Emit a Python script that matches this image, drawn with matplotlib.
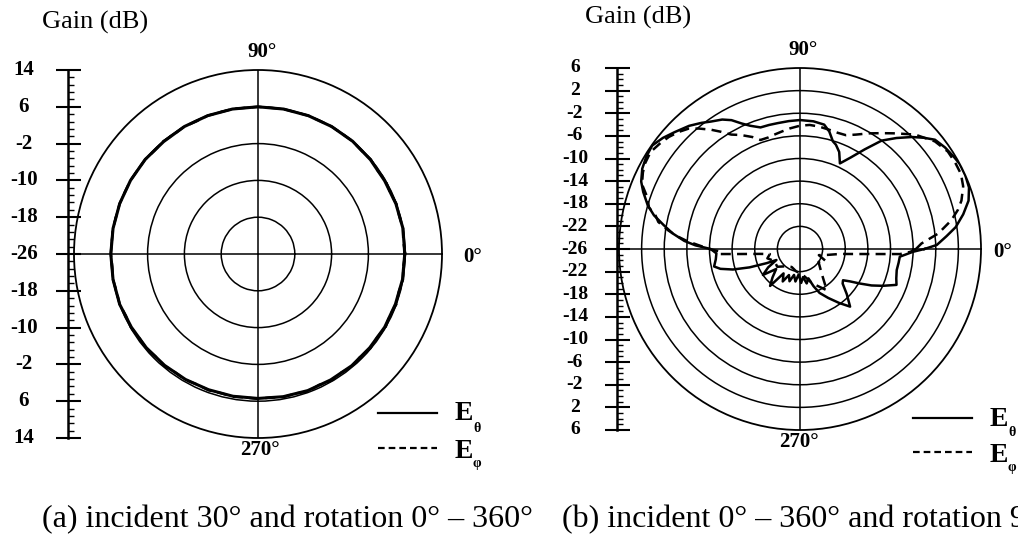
import numpy as np
import matplotlib
matplotlib.use("Agg")
import matplotlib.pyplot as plt
from matplotlib.ticker import MultipleLocator

plt.rcParams['font.family'] = ['Liberation Serif', 'DejaVu Serif']

# (a) incident 30 deg, rotation 0-360 deg
angles_a_theta = list(range(0, 361, 10))
gain_a_theta = [5.9, 6.0, 5.9, 5.8, 5.9, 6.0, 6.0, 6.0, 6.0, 6.0,
                6.0, 6.0, 6.0, 5.9, 6.0, 6.0, 6.0, 6.0, 6.0, 6.0,
                6.0, 5.8, 5.7, 5.6, 5.5, 5.4, 5.4, 5.4, 5.5, 5.6,
                5.6, 5.7, 5.7, 5.8, 5.8, 5.9, 5.9]
angles_a_phi = list(range(0, 361, 5))
gain_a_phi = [6.0, 5.7, 6.0, 5.8, 6.0, 5.7, 6.0, 5.7, 6.0, 5.8,
              6.0, 5.9, 6.0, 5.9, 6.0, 5.9, 6.0, 5.9, 6.0, 5.9,
              6.0, 5.9, 6.0, 5.8, 6.0, 5.8, 6.0, 5.8, 6.0, 5.9,
              6.0, 5.9, 6.0, 5.9, 6.0, 5.9, 6.0, 5.8, 6.0, 5.8,
              6.0, 5.7, 5.9, 5.6, 5.8, 5.5, 5.7, 5.4, 5.6, 5.3,
              5.5, 5.3, 5.5, 5.3, 5.5, 5.3, 5.6, 5.4, 5.8, 5.4,
              5.8, 5.5, 5.9, 5.5, 5.9, 5.6, 6.0, 5.6, 6.0, 5.7,
              6.0, 5.7, 6.0]

# (b) incident 0-360 deg, rotation 90 deg
angles_b_theta = [0, 1.7, 5, 8, 12, 16, 20, 24, 28, 31, 35, 39, 42, 45, 49,
                  53, 57, 61, 65, 68, 71, 73, 76, 79, 84, 90, 95, 100, 104,
                  108, 112, 115, 118, 121, 125, 128, 132, 137, 141, 145, 149,
                  153, 157, 160, 164, 167, 170, 173, 176, 178, 180, 183, 187,
                  191.5, 194, 197, 200, 203, 205, 210, 215, 220, 226, 231,
                  236, 242, 247, 252, 257, 262, 267, 272, 276, 281, 286, 290,
                  294, 300, 306, 311, 316, 321, 324, 327, 330, 333, 336,
                  339.6, 343, 347.7, 352, 355.6, 358.6, 360]
gain_b_theta = [-4.0, -1.8, 0.0, 1.8, 3.5, 5.0, 5.8, 6.0, 6.0, 5.7, 5.3, 4.7,
                3.4, 2.0, 0.0, -2.0, -5.0, -7.5, -9.3, -7.5, -6.5, -6.1, -4.6,
                -3.6, -3.3, -3.2, -3.3, -3.4, -3.4, -3.4, -2.5, -1.5, -0.2,
                0.7, 1.5, 2.3, 3.3, 4.3, 5.2, 5.9, 5.7, 5.3, 4.5, 3.5, 2.0,
                0.5, -1.5, -3.3, -5.5, -7.5, -10.2, -11.2, -11.0, -10.5,
                -11.5, -13.6, -16.5, -19.6, -21.4, -19.5, -18.0, -20.5,
                -19.0, -17.6, -20.8, -19.5, -21.0, -20.0, -21.3, -20.2,
                -21.5, -20.0, -21.0, -19.8, -20.6, -19.0, -17.5, -16.0,
                -14.2, -12.5, -14.5, -16.3, -16.6, -15.5, -13.8, -11.8,
                -10.0, -7.8, -8.2, -8.5, -8.4, -8.3, -6.0, -4.0]
angles_b_phi = [0, 2.6, 6.4, 10.7, 14, 16.7, 21, 25, 29, 33.4, 38.6, 44.8,
                50.5, 55, 59.2, 64, 68, 72, 76, 81, 85.5, 90, 94.7, 99, 103,
                106, 109.9, 113, 117.4, 121, 124, 126.7, 130, 132.8, 136,
                139.5, 143, 147, 151, 154, 157.7, 161.3, 164.6, 167, 169.2,
                172, 174.3, 176, 177.8, 180, 182, 183.6, 184.8, 187, 189.5,
                196, 205, 218, 230, 245, 260, 275, 290, 303, 309, 316, 325,
                335, 342, 348, 352.9, 355.2, 356.4, 357.1, 358.5, 360]
gain_b_phi = [-5.5, -4.5, -1.4, 1.2, 2.8, 3.8, 4.9, 5.4, 5.4, 5.3, 4.5, 2.7,
              0.5, -1.0, -2.2, -3.5, -4.3, -4.4, -4.3, -4.1, -4.0, -4.2, -4.6,
              -5.0, -5.3, -5.5, -5.5, -4.5, -3.3, -2.4, -1.0, 0.3, 1.8, 3.0,
              3.8, 4.5, 5.0, 5.5, 5.3, 4.9, 4.2, 2.5, 1.7, 0.2, -0.5, -2.5,
              -4.4, -6.0, -8.0, -10.0, -12.0, -11.8, -15.4, -18.9, -20.6,
              -20.0, -21.0, -20.9, -22.0, -22.5, -22.0, -21.5, -19.5, -17.3,
              -19.6, -21.0, -22.0, -21.0, -22.5, -21.0, -18.9, -15.4, -11.8,
              -8.3, -6.5, -5.5]

scale_a = [14, 6, -2, -10, -18, -26, -18, -10, -2, 6, 14]
scale_b = [6, 2, -2, -6, -10, -14, -18, -22, -26, -22, -18, -14, -10, -6,
           -2, 2, 6]

W, H = 1018, 547
fig = plt.figure(figsize=(W / 100, H / 100), dpi=100)


def px_rect(x0, y0, x1, y1):
    return [x0 / W, 1 - y1 / H, (x1 - x0) / W, (y1 - y0) / H]


def polar_panel(rect, rmin, rmax, step):
    ax = fig.add_axes(rect, projection='polar')
    ax.set_rlim(rmin, rmax)
    ax.set_yticks(np.arange(rmin + step, rmax, step))
    ax.set_yticklabels([])
    ax.set_xticks(np.radians([0, 90, 180, 270]))
    ax.set_xticklabels([])
    ax.tick_params(length=0)
    ax.grid(True, color='black', linewidth=1.1, linestyle='-')
    ax.spines['polar'].set_linewidth(1.3)
    return ax


def gain_scale(rect, half, step, minor, labels, label_x, size):
    sc = fig.add_axes(rect)
    sc.set_ylim(-half, half)
    sc.set_xlim(0, 1)
    for side in ['top', 'bottom', 'left']:
        sc.spines[side].set_visible(False)
    sc.spines['right'].set_linewidth(1.8)
    sc.xaxis.set_visible(False)
    sc.yaxis.tick_right()
    ticks = np.arange(-half, half + 0.01, step)
    sc.set_yticks(ticks)
    sc.set_yticklabels([])
    sc.yaxis.set_minor_locator(MultipleLocator(minor))
    sc.tick_params(axis='y', which='major', direction='inout', length=18, width=1.5)
    sc.tick_params(axis='y', which='minor', direction='out', length=4, width=1)
    sc.patch.set_visible(False)
    for y, lab in zip(ticks, labels):
        sc.text(label_x, y, str(lab), ha='center', va='center',
                fontsize=size, fontweight='bold', clip_on=False)
    return sc


# panel (a)
ax_a = polar_panel(px_rect(74, 70, 442, 438), -26, 14, 8)
ax_a.plot(np.radians(angles_a_theta), gain_a_theta, color='black', lw=2.2)
ax_a.plot(np.radians(angles_a_phi), gain_a_phi, color='black', lw=1.8,
          linestyle=(0, (4, 2.5)))
gain_scale(px_rect(0, 70, 68, 438), 40, 8, 1.6, scale_a, 0.35, 15)

# panel (b)
ax_b = polar_panel(px_rect(619, 68, 981, 430), -26, 6, 4)
ax_b.plot(np.radians(angles_b_theta), gain_b_theta, color='black', lw=1.8)
ax_b.plot(np.radians(angles_b_phi), gain_b_phi, color='black', lw=1.8,
          linestyle=(0, (4, 2.5)))
gain_scale(px_rect(560, 68, 617, 430), 32, 4, 1, scale_b, 0.26, 14)

# text overlay in pixel coordinates
ov = fig.add_axes([0, 0, 1, 1])
ov.set_xlim(0, W)
ov.set_ylim(H, 0)
ov.axis('off')
ov.patch.set_visible(False)

ov.text(42, 22, 'Gain (dB)', fontsize=19, va='center', ha='left')
ov.text(585, 17, 'Gain (dB)', fontsize=19, va='center', ha='left')

ov.text(262, 52, '90°', fontsize=15, fontweight='bold', ha='center', va='center')
ov.text(463, 257, '0°', fontsize=15, fontweight='bold', ha='left', va='center')
ov.text(260, 450, '270°', fontsize=15, fontweight='bold', ha='center', va='center')
ov.text(803, 50, '90°', fontsize=15, fontweight='bold', ha='center', va='center')
ov.text(993, 252, '0°', fontsize=15, fontweight='bold', ha='left', va='center')
ov.text(799, 442, '270°', fontsize=15, fontweight='bold', ha='center', va='center')

# legends
for x0, x1, ys, ye, tx in [(378, 437, 413, 448, 455), (913, 972, 418, 452, 990)]:
    ov.plot([x0, x1], [ys, ys], color='black', lw=1.6)
    ov.plot([x0, x1], [ye, ye], color='black', lw=1.6, linestyle=(0, (3, 1.8)))
    ov.text(tx, ys + 1, 'E', fontsize=20, fontweight='bold', ha='left', va='center')
    ov.text(tx + 18, ys + 15, 'θ', fontsize=10, fontweight='bold', ha='left', va='center')
    ov.text(tx, ye + 3, 'E', fontsize=20, fontweight='bold', ha='left', va='center')
    ov.text(tx + 18, ye + 15, 'φ', fontsize=10, fontweight='bold', ha='left', va='center')

ov.text(42, 520, '(a) incident 30° and rotation 0° – 360°', fontsize=23,
        ha='left', va='center')
ov.text(562, 520, '(b) incident 0° – 360° and rotation 90°', fontsize=23,
        ha='left', va='center')

fig.savefig('out.png', dpi=100)
